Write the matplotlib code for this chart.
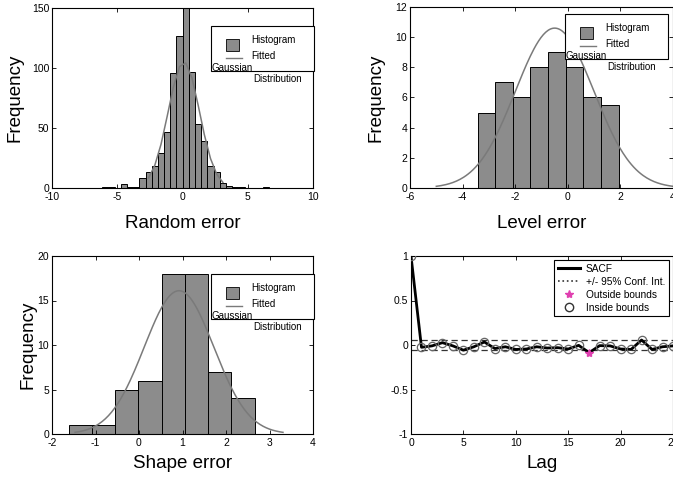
import numpy as np
import matplotlib.pyplot as plt
from matplotlib.lines import Line2D
from matplotlib.patches import Rectangle

plt.rcParams['font.family'] = ['Liberation Sans', 'DejaVu Sans']
plt.rcParams['axes.unicode_minus'] = False

# --- random error histogram (27 bins) and its fitted normal
rand_edges = np.linspace(-6.15, 6.65, 28)
rand_counts = [1, 1, 0, 3, 1, 1, 8, 13, 18, 29, 47, 96, 127, 150,
               97, 53, 39, 18, 13, 4, 2, 1, 1, 0, 0, 0, 1]
rand_fit = dict(mu=0.1, sd=1.2, peak=105)

# --- level error histogram
level_edges = np.linspace(-3.43, 1.93, 9)
level_counts = [5, 7, 6, 8, 9, 8, 6, 5.5]
level_fit = dict(mu=-0.5, sd=1.49, peak=10.6, lo=-5.0, hi=4.0)

# --- shape error histogram
shape_edges = np.linspace(-1.62, 2.66, 9)
shape_counts = [1, 1, 5, 6, 18, 18, 7, 4]
shape_fit = dict(mu=0.92, sd=0.80, peak=16.1, lo=-1.47, hi=3.31)

# --- sample autocorrelation of the residuals
lags = np.arange(26)
sacf = [1.0, -0.026, -0.01, 0.026, -0.01, -0.058, -0.02, 0.034, -0.04, -0.02,
        -0.05, -0.045, -0.02, -0.034, -0.03, -0.045, -0.004, -0.086, -0.007,
        -0.01, -0.045, -0.05, 0.056, -0.05, -0.02, -0.01]
conf_bound = 0.06

BAR = '#8c8c8c'
FIT = '#7a7a7a'

fig = plt.figure(figsize=(6.73, 4.83), dpi=100)
W, H = 673, 483


def make_axes(x0, y0, x1, y1):
    # pixel box (left, top, right, bottom) -> figure fraction
    return fig.add_axes([x0 / W, 1 - y1 / H, (x1 - x0) / W, (y1 - y0) / H])


def style(ax):
    ax.tick_params(direction='in', length=3, width=0.6, top=True, right=True,
                   labelsize=7.5, pad=2)
    ax.tick_params(axis='x', pad=3)
    for s in ax.spines.values():
        s.set_linewidth(0.8)


def gauss(x, mu, sd, peak):
    return peak * np.exp(-0.5 * ((x - mu) / sd) ** 2)


def hist_legend(ax, bx, by):
    # MATLAB style legend whose last entry overflows the box
    pos = ax.get_position()
    aw, ah = pos.width * W, pos.height * H

    def p(dx, dy):
        return (bx + dx) / aw, 1 - (by + dy) / ah

    kw = dict(transform=ax.transAxes, clip_on=False)
    x0, y0 = p(0, 45)
    ax.add_patch(Rectangle((x0, y0), 103 / aw, 45 / ah, facecolor='white',
                           edgecolor='black', lw=0.8, zorder=5, **kw))
    x0, y0 = p(15, 25)
    ax.add_patch(Rectangle((x0, y0), 13 / aw, 12 / ah, facecolor=BAR,
                           edgecolor='black', lw=0.6, zorder=6, **kw))
    xa, ya = p(15, 32)
    xb, _ = p(31, 32)
    ax.add_line(Line2D([xa, xb], [ya, ya], color=FIT, lw=1, zorder=6, **kw))
    tk = dict(transform=ax.transAxes, fontsize=7, va='center', zorder=7)
    ax.text(*p(40, 14), 'Histogram', **tk)
    ax.text(*p(40, 30), 'Fitted', **tk)
    ax.text(*p(0, 42), 'Gaussian', **tk)
    ax.text(*p(42, 53), 'Distribution', **tk)


# top left: random error
ax1 = make_axes(52, 8, 313, 188)
ax1.bar(rand_edges[:-1], rand_counts, width=np.diff(rand_edges), align='edge',
        color=BAR, edgecolor='black', lw=0.7)
centers = 0.5 * (rand_edges[:-1] + rand_edges[1:])
xc = centers[7:20]
ax1.plot(xc, gauss(xc, **rand_fit), color=FIT, lw=1.1)
ax1.set_xlim(-10, 10)
ax1.set_ylim(0, 150)
ax1.set_xticks([-10, -5, 0, 5, 10])
ax1.set_yticks([0, 50, 100, 150])
ax1.set_xlabel('Random error', fontsize=13.5, labelpad=9)
ax1.set_ylabel('Frequency', fontsize=13.5, labelpad=6)
style(ax1)
hist_legend(ax1, 159, 18)

# top right: level error
ax2 = make_axes(410, 7, 673, 188)
ax2.bar(level_edges[:-1], level_counts, width=np.diff(level_edges), align='edge',
        color=BAR, edgecolor='black', lw=0.7)
xs = np.linspace(level_fit['lo'], level_fit['hi'], 200)
ax2.plot(xs, gauss(xs, level_fit['mu'], level_fit['sd'], level_fit['peak']),
         color=FIT, lw=1.1)
ax2.set_xlim(-6, 4)
ax2.set_ylim(0, 12)
ax2.set_xticks([-6, -4, -2, 0, 2, 4])
ax2.set_yticks(range(0, 13, 2))
ax2.set_xlabel('Level error', fontsize=13.5, labelpad=9)
ax2.set_ylabel('Frequency', fontsize=13.5, labelpad=8)
style(ax2)
hist_legend(ax2, 155, 7)

# bottom left: shape error
ax3 = make_axes(52, 256, 313, 434)
ax3.bar(shape_edges[:-1], shape_counts, width=np.diff(shape_edges), align='edge',
        color=BAR, edgecolor='black', lw=0.7)
xs = np.linspace(shape_fit['lo'], shape_fit['hi'], 200)
ax3.plot(xs, gauss(xs, shape_fit['mu'], shape_fit['sd'], shape_fit['peak']),
         color=FIT, lw=1.1)
ax3.set_xlim(-2, 4)
ax3.set_ylim(0, 20)
ax3.set_xticks(range(-2, 5))
ax3.set_yticks([0, 5, 10, 15, 20])
ax3.set_xlabel('Shape error', fontsize=13.5, labelpad=5)
ax3.set_ylabel('Frequency', fontsize=13.5, labelpad=1)
style(ax3)
hist_legend(ax3, 159, 18)

# bottom right: SACF with 95% bounds
ax4 = make_axes(411, 256, 673, 434)
sacf = np.array(sacf)
outside = np.abs(sacf) > conf_bound
outside[0] = False
ax4.plot(lags, sacf, color='black', lw=2, zorder=2)
ax4.axhline(conf_bound, color='#333333', ls=(0, (5, 3)), lw=0.9, zorder=1)
ax4.axhline(-conf_bound, color='#333333', ls=(0, (5, 3)), lw=0.9, zorder=1)
ax4.plot(lags[~outside], sacf[~outside], 'o', ms=6, mfc='none', mec='#666666',
         mew=0.9, zorder=3)
ax4.plot(lags[outside], sacf[outside], '*', ms=6, color='#e040b0', zorder=3)
ax4.set_xlim(0, 25)
ax4.set_ylim(-1, 1)
ax4.set_xticks([0, 5, 10, 15, 20, 25])
ax4.set_yticks([-1, -0.5, 0, 0.5, 1])
ax4.set_yticklabels(['-1', '-0.5', '0', '0.5', '1'])
ax4.set_xlabel('Lag', fontsize=13.5, labelpad=5)
style(ax4)
handles = [
    Line2D([], [], color='black', lw=2.2),
    Line2D([], [], color='#333333', ls=':', lw=1.2),
    Line2D([], [], ls='none', marker='*', ms=6, color='#e040b0'),
    Line2D([], [], ls='none', marker='o', ms=6, mfc='none', mec='#333333'),
]
labels = ['SACF', '+/- 95% Conf. Int.', 'Outside bounds', 'Inside bounds']
leg = ax4.legend(handles, labels, loc='upper right', fontsize=7.3,
                 fancybox=False, framealpha=1, edgecolor='black',
                 handlelength=2.2, handletextpad=0.6, borderpad=0.35,
                 labelspacing=0.3, borderaxespad=0.4)
leg.get_frame().set_linewidth(0.8)

fig.savefig('out.png', dpi=100)
